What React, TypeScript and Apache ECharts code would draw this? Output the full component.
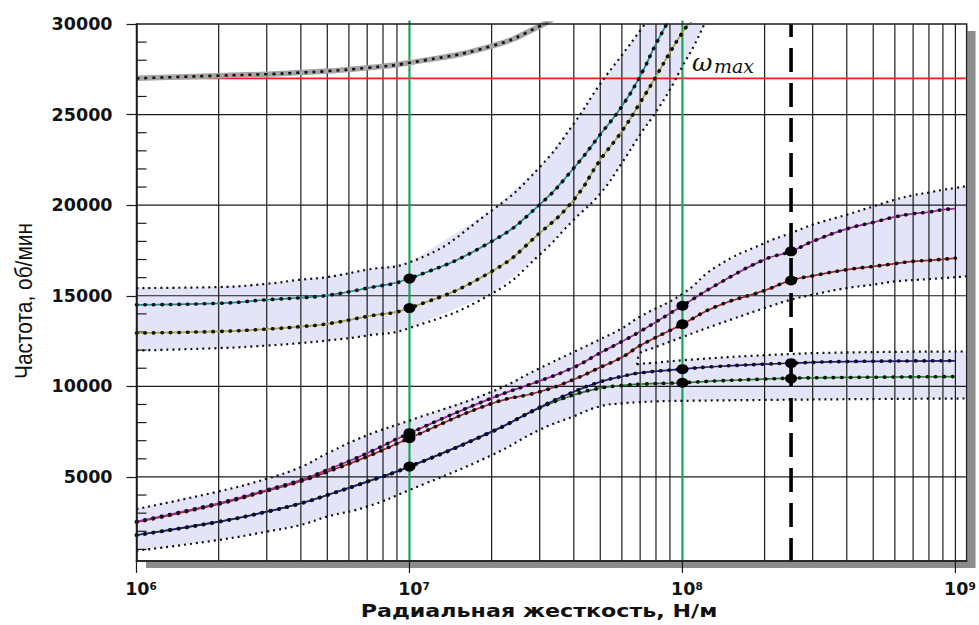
import React, { useEffect, useRef } from "react";
import * as echarts from "echarts";

// ---------- axis ranges & ticks ----------
const X_MIN = 1e6;
const X_MAX = 1.1e9;
const Y_MIN = 360;
const Y_MAX = 30000;

const xDecadeTicks = [1e6, 1e7, 1e8, 1e9];
const xGridLines = [
  2e6, 3e6, 4e6, 5e6, 6e6, 7e6, 8e6, 9e6,
  2e7, 3e7, 4e7, 5e7, 6e7, 7e7, 8e7, 9e7,
  2e8, 3e8, 4e8, 5e8, 6e8, 7e8, 8e8, 9e8, 1e9,
];
const yMajorTicks = [5000, 10000, 15000, 20000, 25000, 30000];
const yGridLines = [5000, 10000, 15000, 20000, 25000];
const yMinorTicks = [
  1000, 2000, 3000, 4000, 6000, 7000, 8000, 9000, 11000, 12000, 13000, 14000,
  16000, 17000, 18000, 19000, 21000, 22000, 23000, 24000, 26000, 27000, 28000, 29000,
];
const greenLines = [1e7, 1e8];
const dashedLines = [2.5e8];
const omegaMax = 27000;

// ---------- curves ----------
const grayCurve: number[][] = [
  [1e6, 27000], [2e6, 27150], [3e6, 27230], [4e6, 27320], [5e6, 27400],
  [7e6, 27580], [1e7, 27860], [2e7, 28780], [3e7, 29880], [3.5e7, 30500],
];
const tealCurve: number[][] = [
  [1e6, 14500], [2e6, 14580], [3e6, 14780], [4e6, 14890], [5e6, 15020], [7e6, 15420],
  [1e7, 15950], [2e7, 18000], [3e7, 20030], [4e7, 22050], [5e7, 23900],
  [6e7, 25460], [7e7, 27120], [8e7, 28900], [9e7, 30300],
];
const oliveCurve: number[][] = [
  [1e6, 12940], [2e6, 13030], [3e6, 13160], [4e6, 13300], [5e6, 13450], [7e6, 13860],
  [1e7, 14320], [2e7, 16340], [3e7, 18460], [4e7, 20300], [5e7, 22500],
  [6e7, 24080], [7e7, 25660], [8e7, 27100], [9e7, 28430], [1e8, 29530], [1.1e8, 30400],
];
const magentaCurve: number[][] = [
  [1e6, 2530], [2e6, 3550], [3e6, 4280], [4e6, 4830], [5e6, 5390], [7e6, 6310],
  [1e7, 7415], [2e7, 9350], [3e7, 10300], [4e7, 11050], [5e7, 11850], [6e7, 12475],
  [7e7, 13030], [1e8, 14450], [1.33e8, 15600], [2e8, 17000], [2.5e8, 17450],
  [3e8, 18000], [4e8, 18690], [5e8, 19050], [6e8, 19350], [7e8, 19530], [8e8, 19620],
  [9e8, 19750], [1e9, 19810],
];
const darkRedCurve: number[][] = [
  [1e6, 2500], [2e6, 3500], [3e6, 4230], [4e6, 4760], [5e6, 5280], [7e6, 6120],
  [1e7, 7140], [2e7, 9050], [3e7, 9700], [4e7, 10380], [5e7, 11050], [6e7, 11600],
  [7e7, 12250], [1e8, 13430], [1.33e8, 14410], [2e8, 15290], [2.5e8, 15850], [3e8, 16100],
  [4e8, 16440], [5e8, 16620], [6e8, 16770], [7e8, 16900], [8e8, 16950], [1e9, 17080],
];
const blueCurve: number[][] = [
  [1e6, 1795], [2e6, 2530], [3e6, 3085], [4e6, 3545], [5e6, 4005], [7e6, 4740],
  [1e7, 5570], [2e7, 7500], [3e7, 8850], [4e7, 9700], [5e7, 10250], [6e7, 10550],
  [7e7, 10740], [1e8, 10950], [1.33e8, 11095], [2e8, 11225], [2.5e8, 11280], [4e8, 11370],
  [1e9, 11410],
];
const greenCurve: number[][] = [
  [1e6, 1780], [2e6, 2520], [3e6, 3075], [4e6, 3535], [5e6, 3995], [7e6, 4730],
  [1e7, 5560], [2e7, 7480], [3e7, 8800], [4e7, 9530], [5e7, 9900], [6e7, 10045],
  [7e7, 10120], [1e8, 10200], [1.33e8, 10300], [2e8, 10400], [2.5e8, 10450], [4e8, 10490],
  [1e9, 10540],
];

// ---------- tolerance bands ----------
const band1Upper: number[][] = [
  [1e6, 15425], [2e6, 15480], [3e6, 15660], [4e6, 15890], [5e6, 16030], [7e6, 16440],
  [1e7, 16840], [2e7, 19700], [3e7, 22100], [4e7, 24500], [5e7, 26700],
  [6e7, 28280], [7e7, 29640], [7.5e7, 30300],
];
const band1Lower: number[][] = [
  [1e6, 11980], [2e6, 12110], [3e6, 12250], [4e6, 12390], [5e6, 12530], [7e6, 12800],
  [1e7, 13215], [2e7, 15110], [3e7, 17265], [4e7, 19200], [5e7, 20640],
  [6e7, 22330], [7e7, 23900], [8e7, 25150], [9e7, 26380], [1e8, 27670], [1.1e8, 28770],
  [1.2e8, 29950], [1.3e8, 31000],
];
const band2Upper: number[][] = [
  [1e6, 3230], [2e6, 4200], [3e6, 4900], [4e6, 5550], [5e6, 6300], [7e6, 7300],
  [1e7, 8110], [2e7, 9700], [3e7, 11000], [4e7, 11900], [5e7, 12600], [6e7, 13200],
  [7e7, 13850], [1e8, 15100], [1.33e8, 16600], [2e8, 17910], [2.5e8, 18465], [3e8, 18920],
  [4e8, 19475], [5e8, 19930], [6e8, 20300], [7e8, 20550], [8e8, 20700], [9e8, 20850],
  [1e9, 20950], [1.1e9, 21050],
];
const band2Lower: number[][] = [
  [1e6, 930], [2e6, 1520], [3e6, 1980], [4e6, 2350], [5e6, 2810], [7e6, 3360],
  [1e7, 4280], [2e7, 6200], [3e7, 7600], [4e7, 8350], [5e7, 8900], [6e7, 9060],
  [6.82e7, 9120], [8e7, 9170], [1e8, 9200], [2e8, 9250], [5e8, 9300], [1.1e9, 9330],
];
const splitX = 6.82e7;
const band2SplitTop: number[][] = [
  [6.82e7, 11200], [7e7, 11830], [7.6e7, 12050], [1e8, 12720], [1.33e8, 13400],
  [2e8, 14320], [2.5e8, 14780], [3e8, 15055], [4e8, 15425], [5e8, 15610], [6e8, 15790],
  [8e8, 15920], [1.1e9, 16070],
];
const band2SplitBottom: number[][] = [
  [6.82e7, 11200], [7e7, 11245], [7.6e7, 11280], [1e8, 11440], [2e8, 11720],
  [4e8, 11870], [1.1e9, 11925],
];

// ---------- highlighted points ----------
const keyPoints: number[][] = [
  [1e7, 15950], [1e7, 14320], [1e7, 7415], [1e7, 7140], [1e7, 5570],
  [1e8, 14450], [1e8, 13430], [1e8, 10950], [1e8, 10200],
  [2.5e8, 17450], [2.5e8, 15840], [2.5e8, 11280], [2.5e8, 10430],
];

const BAND_FILL = "#e4e4f9";
const INK = "#1c1c1c";
const SMOOTH = 0.5;

function polygonSeries(points: number[][], z: number) {
  return {
    type: "custom",
    silent: true,
    clip: true,
    z,
    data: [[1e7, 10000]],
    encode: { x: 0, y: 1 },
    renderItem: (_p: any, api: any) => ({
      type: "polygon",
      shape: { points: points.map((p) => api.coord(p)), smooth: 0 },
      style: { fill: BAND_FILL, stroke: "none" },
    }),
  };
}

function curveSeries(data: number[][], color: string) {
  return [
    {
      type: "line", data, smooth: SMOOTH, symbol: "none", silent: true,
      lineStyle: { color, width: 1.7 }, z: 5,
    },
    {
      type: "line", data, smooth: SMOOTH, symbol: "none", silent: true,
      lineStyle: { color: "#111", width: 3.6, type: [0.5, 8], cap: "round" }, z: 5,
    },
  ];
}

function dottedSeries(data: number[][]) {
  return {
    type: "line", data, smooth: SMOOTH, symbol: "none", silent: true,
    lineStyle: { color: "#111", width: 2.2, type: [2, 4] }, z: 4,
  };
}

export default function App() {
  const ref = useRef<HTMLDivElement>(null);

  useEffect(() => {
    document.body.style.margin = "0";
    const chart = echarts.init(ref.current!, null, { renderer: "svg" });

    const band2UpperPoly = [
      ...band2Upper,
      ...band2SplitTop.slice().reverse(),
      ...band2Lower.filter((p) => p[0] <= splitX).reverse(),
    ];
    const band2LowerPoly = [
      ...band2SplitBottom,
      ...band2Lower.filter((p) => p[0] >= splitX).reverse(),
    ];
    const band1Poly = [...band1Upper, ...band1Lower.slice().reverse()];

    const option: any = {
      animation: false,
      grid: {
        left: 136.5, right: 12.3, top: 24, bottom: 64,
        show: true, z: 10, borderColor: INK, borderWidth: 1.5, backgroundColor: "transparent",
      },
      xAxis: {
        type: "log", logBase: 10, min: X_MIN, max: X_MAX, z: 10,
        axisLine: { show: true, onZero: false, lineStyle: { color: INK, width: 1.5 } },
        axisTick: { show: false },
        splitLine: { show: false },
        minorTick: { show: false },
        minorSplitLine: { show: false },
        axisLabel: {
          margin: 19,
          padding: [0, 0, 0, 9],
          formatter: (v: number) => {
            const e = Math.log10(v);
            if (Math.abs(e - Math.round(e)) > 1e-6) return "";
            return `{b|10}{s|${Math.round(e)}}`;
          },
          rich: {
            b: { fontSize: 17.5, fontWeight: "bold", fontFamily: "DejaVu Sans", color: "#111" },
            s: { fontSize: 10.5, fontWeight: "bold", fontFamily: "DejaVu Sans", color: "#111", verticalAlign: "top" },
          },
        },
      },
      yAxis: {
        type: "value", min: Y_MIN, max: Y_MAX, z: 10,
        axisLine: { show: true, lineStyle: { color: INK, width: 1.5 } },
        axisTick: { show: true, length: 10, customValues: yMajorTicks, lineStyle: { color: INK, width: 1.2 } },
        splitLine: { show: false },
        axisLabel: {
          customValues: yMajorTicks,
          margin: 24,
          fontSize: 17.5,
          fontWeight: "bold",
          fontFamily: "DejaVu Sans",
          color: "#111",
          formatter: (v: number) => (v % 5000 === 0 && v > 0 ? String(v) : ""),
        },
      },
      graphic: [
        { type: "rect", z: 0, shape: { x: 967.5, y: 31, width: 8, height: 537 }, style: { fill: "#8c8c8c" } },
        { type: "rect", z: 0, shape: { x: 146, y: 562, width: 829, height: 6 }, style: { fill: "#8c8c8c" } },
        {
          type: "text", x: 24, y: 301, rotation: Math.PI / 2, scaleX: 0.87,
          style: {
            text: "Частота, об/мин", fontSize: 24, fontFamily: "Liberation Sans", fill: "#111",
            align: "center", verticalAlign: "middle",
          },
        },
        {
          type: "text", x: 539, y: 611, scaleX: 1.2,
          style: {
            text: "Радиальная жесткость, Н/м", fontSize: 18.5, fontWeight: "bold", fontFamily: "DejaVu Sans",
            fill: "#111", align: "center", verticalAlign: "middle",
          },
        },
        {
          type: "text", x: 692, y: 62, z: 20,
          style: { text: "ω", fontSize: 25, fontStyle: "italic", fontFamily: "DejaVu Serif", fill: "#111", align: "left", verticalAlign: "middle" },
        },
        {
          type: "text", x: 714, y: 66, z: 20,
          style: { text: "max", fontSize: 19, fontStyle: "italic", fontFamily: "DejaVu Serif", fill: "#111", align: "left", verticalAlign: "middle" },
        },
      ],
      series: [
        polygonSeries(band1Poly, 1),
        polygonSeries(band2UpperPoly, 1),
        polygonSeries(band2LowerPoly, 1),
        // vertical grid lines
        {
          type: "custom", silent: true, z: 2, encode: { x: 0, y: 1 },
          data: xGridLines.map((v) => [v, Y_MIN]),
          renderItem: (_p: any, api: any) => {
            const x = api.value(0);
            const a = api.coord([x, Y_MAX]);
            const b = api.coord([x, Y_MIN]);
            return { type: "line", shape: { x1: a[0], y1: a[1], x2: b[0], y2: b[1] }, style: { stroke: INK, lineWidth: 1.2 } };
          },
        },
        // horizontal grid lines
        {
          type: "custom", silent: true, z: 2, encode: { x: 0, y: 1 },
          data: yGridLines.map((v) => [X_MIN, v]),
          renderItem: (_p: any, api: any) => {
            const y = api.value(1);
            const a = api.coord([X_MIN, y]);
            const b = api.coord([X_MAX, y]);
            return { type: "line", shape: { x1: a[0], y1: a[1], x2: b[0], y2: b[1] }, style: { stroke: INK, lineWidth: 1.2 } };
          },
        },
        // y minor ticks (inside)
        {
          type: "custom", silent: true, z: 2, encode: { x: 0, y: 1 },
          data: yMinorTicks.map((v) => [X_MIN, v]),
          renderItem: (_p: any, api: any) => {
            const a = api.coord([X_MIN, api.value(1)]);
            return { type: "line", shape: { x1: a[0], y1: a[1], x2: a[0] + 10, y2: a[1] }, style: { stroke: INK, lineWidth: 1.2 } };
          },
        },
        // x decade ticks (outside)
        {
          type: "custom", silent: true, z: 11, encode: { x: 0, y: 1 },
          data: xDecadeTicks.map((v) => [v, Y_MIN]),
          renderItem: (_p: any, api: any) => {
            const a = api.coord([api.value(0), Y_MIN]);
            return { type: "line", shape: { x1: a[0], y1: a[1], x2: a[0], y2: a[1] + 12 }, style: { stroke: INK, lineWidth: 1.2 } };
          },
        },
        // omega max line
        {
          type: "custom", silent: true, z: 3, encode: { x: 0, y: 1 },
          data: [[X_MIN, omegaMax]],
          renderItem: (_p: any, api: any) => {
            const y = api.value(1);
            const a = api.coord([X_MIN, y]);
            const b = api.coord([X_MAX, y]);
            return { type: "line", shape: { x1: a[0], y1: a[1], x2: b[0], y2: b[1] }, style: { stroke: "#ff1a1a", lineWidth: 1.6 } };
          },
        },
        // green reference lines
        {
          type: "custom", silent: true, z: 3, encode: { x: 0, y: 1 },
          data: greenLines.map((v) => [v, Y_MIN]),
          renderItem: (_p: any, api: any) => {
            const x = api.value(0);
            const a = api.coord([x, Y_MAX]);
            const b = api.coord([x, Y_MIN]);
            return { type: "line", shape: { x1: a[0], y1: a[1] - 3.5, x2: b[0], y2: b[1] }, style: { stroke: "#1fa257", lineWidth: 2.2 } };
          },
        },
        // dashed operating line
        {
          type: "custom", silent: true, z: 3, encode: { x: 0, y: 1 },
          data: dashedLines.map((v) => [v, Y_MIN]),
          renderItem: (_p: any, api: any) => {
            const x = api.value(0);
            const a = api.coord([x, Y_MAX]);
            const b = api.coord([x, Y_MIN]);
            return {
              type: "line", shape: { x1: a[0], y1: a[1], x2: b[0], y2: b[1] },
              style: { stroke: "#000", lineWidth: 3.6, lineDash: [24, 11], lineDashOffset: 11 },
            };
          },
        },
        dottedSeries(band1Upper),
        dottedSeries(band1Lower),
        dottedSeries(band2Upper),
        dottedSeries(band2Lower),
        dottedSeries(band2SplitTop),
        dottedSeries(band2SplitBottom),
        // gray top curve
        {
          type: "line", data: grayCurve, smooth: SMOOTH, symbol: "none", silent: true,
          lineStyle: { color: "#a5a5a5", width: 5.5 }, z: 5,
        },
        {
          type: "line", data: grayCurve, smooth: SMOOTH, symbol: "none", silent: true,
          lineStyle: { color: "#111", width: 2.6, type: [3, 5] }, z: 5,
        },
        ...curveSeries(tealCurve, "#178f97"),
        ...curveSeries(oliveCurve, "#a9a834"),
        ...curveSeries(greenCurve, "#1f8a24"),
        ...curveSeries(blueCurve, "#1d1d90"),
        ...curveSeries(darkRedCurve, "#b12424"),
        ...curveSeries(magentaCurve, "#a526a8"),
        {
          type: "scatter", data: keyPoints, symbol: "circle", symbolSize: [12, 10], silent: true,
          itemStyle: { color: "#000", opacity: 1 }, z: 6,
        },
      ],
    };

    chart.setOption(option);
    return () => chart.dispose();
  }, []);

  return <div ref={ref} style={{ position: "absolute", left: 0, top: 0, width: 979, height: 625 }} />;
}
